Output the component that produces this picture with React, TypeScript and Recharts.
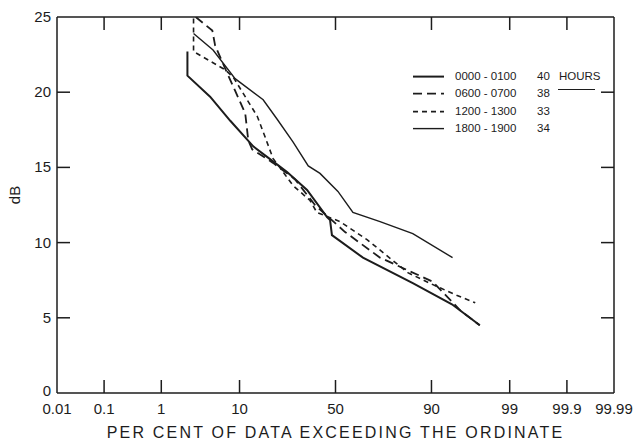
import React from "react";
import { LineChart, Line, XAxis, YAxis, Legend, Label } from "recharts";

// probability-paper abscissa: percent exceeded
const TICK_PCT = [0.01, 0.1, 1, 10, 50, 90, 99, 99.9, 99.99];
const TICK_LABELS = ["0.01", "0.1", "1", "10", "50", "90", "99", "99.9", "99.99"];
const DB_TICKS = [0, 5, 10, 15, 20, 25];

const SERIES_NAMES = ["0000 - 0100", "0600 - 0700", "1200 - 1300", "1800 - 1900"];
const SERIES_HOURS = ["40", "38", "33", "34"];

const PCT_0000 = [2.4, 2.4, 4.7, 8.0, 13.6, 20.2, 25.9, 35.2, 45.5, 47.1, 48.1, 64.3, 84.9, 94.0, 97.3];
const DB_0000 = [22.7, 21.1, 19.7, 18.1, 16.4, 15.4, 14.7, 13.5, 11.7, 11.5, 10.5, 9.0, 7.3, 5.9, 4.5];

const PCT_0600 = [3.1, 5.0, 5.4, 7.0, 9.0, 11.4, 12.2, 13.3, 20.2, 29.5, 39.2, 55.1, 72.4, 90.3, 95.2, 97.3];
const DB_0600 = [25.0, 24.1, 23.1, 21.6, 20.1, 18.6, 16.8, 16.2, 15.3, 14.2, 12.5, 10.7, 9.0, 7.4, 5.5, 4.5];

const PCT_1200 = [2.9, 2.9, 7.0, 8.6, 14.8, 17.4, 20.2, 28.5, 36.7, 40.2, 52.4, 66.3, 83.3, 89.6, 94.7, 96.9];
const DB_1200 = [24.9, 22.7, 21.5, 21.0, 18.4, 17.0, 15.6, 13.8, 12.8, 12.0, 11.4, 10.2, 8.0, 7.3, 6.5, 6.0];

const PCT_1800 = [2.9, 5.1, 9.0, 16.7, 21.8, 28.5, 35.8, 41.8, 51.3, 59.2, 72.4, 84.9, 94.1];
const DB_1800 = [23.9, 22.8, 20.9, 19.5, 18.2, 16.7, 15.1, 14.6, 13.4, 12.0, 11.4, 10.6, 9.0];

const INK = "#1c1c1c";
const FONT = "'Liberation Sans', Arial, sans-serif";

// inverse normal CDF (Acklam)
function probit(p: number): number {
  const a = [-3.969683028665376e1, 2.209460984245205e2, -2.759285104469687e2, 1.38357751867269e2, -3.066479806614716e1, 2.506628277459239];
  const b = [-5.447609879822406e1, 1.615858368580409e2, -1.556989798598866e2, 6.680131188771972e1, -1.328068155288572e1];
  const c = [-7.784894002430293e-3, -3.223964580411365e-1, -2.400758277161838, -2.549732539343734, 4.374664141464968, 2.938163982698783];
  const d = [7.784695709041462e-3, 3.224671290700398e-1, 2.445134137142996, 3.754408661907416];
  const pl = 0.02425;
  if (p < pl) {
    const q = Math.sqrt(-2 * Math.log(p));
    return (((((c[0] * q + c[1]) * q + c[2]) * q + c[3]) * q + c[4]) * q + c[5]) / ((((d[0] * q + d[1]) * q + d[2]) * q + d[3]) * q + 1);
  }
  if (p > 1 - pl) {
    const q = Math.sqrt(-2 * Math.log(1 - p));
    return -(((((c[0] * q + c[1]) * q + c[2]) * q + c[3]) * q + c[4]) * q + c[5]) / ((((d[0] * q + d[1]) * q + d[2]) * q + d[3]) * q + 1);
  }
  const q = p - 0.5;
  const r = q * q;
  return ((((((a[0] * r + a[1]) * r + a[2]) * r + a[3]) * r + a[4]) * r + a[5]) * q) / (((((b[0] * r + b[1]) * r + b[2]) * r + b[3]) * r + b[4]) * r + 1);
}

const TICKS_Z = TICK_PCT.map((p) => probit(p / 100));
const Z_MIN = TICKS_Z[0];
const Z_MAX = TICKS_Z[TICKS_Z.length - 1];

const toRows = (pct: number[], db: number[]) => pct.map((p, i) => ({ z: probit(p / 100), db: db[i] }));

const s0000 = toRows(PCT_0000, DB_0000);
const s0600 = toRows(PCT_0600, DB_0600);
const s1200 = toRows(PCT_1200, DB_1200);
const s1800 = toRows(PCT_1800, DB_1800);

const TICK_LEN = 13;

const tickIndex = (v: number) => TICKS_Z.findIndex((t) => Math.abs(t - v) < 1e-6);
const isInnerX = (v: number) => {
  const i = tickIndex(v);
  return i > 0 && i < TICKS_Z.length - 1;
};
const isInnerY = (v: number) => v > 0 && v < 25;

const BottomTick = (props: any) => {
  const { x, y, payload } = props;
  const i = tickIndex(payload.value);
  return (
    <g>
      {isInnerX(payload.value) && <line x1={x} x2={x} y1={y} y2={y - TICK_LEN} stroke={INK} strokeWidth={1.5} />}
      <text x={x} y={y + 21} textAnchor="middle" fontSize={15} fontFamily={FONT} fill={INK}>
        {TICK_LABELS[i]}
      </text>
    </g>
  );
};

const TopTick = (props: any) => {
  const { x, y, payload } = props;
  if (!isInnerX(payload.value)) return <g />;
  return <line x1={x} x2={x} y1={y} y2={y + TICK_LEN} stroke={INK} strokeWidth={1.5} />;
};

const LeftTick = (props: any) => {
  const { x, y, payload } = props;
  return (
    <g>
      {isInnerY(payload.value) && <line x1={x} x2={x + TICK_LEN} y1={y} y2={y} stroke={INK} strokeWidth={1.5} />}
      <text x={x - 6} y={payload.value === 0 ? y + 3 : y + 5} textAnchor="end" fontSize={15} fontFamily={FONT} fill={INK}>
        {payload.value}
      </text>
    </g>
  );
};

const RightTick = (props: any) => {
  const { x, y, payload } = props;
  if (!isInnerY(payload.value)) return <g />;
  return <line x1={x} x2={x - TICK_LEN} y1={y} y2={y} stroke={INK} strokeWidth={1.5} />;
};

const DASHES = ["", "9 5", "5 4", ""];
const WIDTHS = [2, 1.8, 1.6, 1.4];

const LegendBox = () => (
  <div style={{ position: "relative", width: 200, height: 72, fontFamily: FONT, fontSize: 11.5, color: INK }}>
    {SERIES_NAMES.map((name, i) => (
      <div key={name} style={{ position: "absolute", left: 0, top: i * 17.3, height: 17.3, width: 200 }}>
        <svg width={40} height={17.3} style={{ position: "absolute", left: 0, top: 0 }}>
          <line x1={3} x2={34} y1={8.6} y2={8.6} stroke={INK} strokeWidth={WIDTHS[i]} strokeDasharray={DASHES[i]} />
        </svg>
        <span style={{ position: "absolute", left: 45, top: 1, lineHeight: "15px" }}>{name}</span>
        <span style={{ position: "absolute", left: 127, top: 1, lineHeight: "15px" }}>{SERIES_HOURS[i]}</span>
        {i === 0 && (
          <span style={{ position: "absolute", left: 149, top: 1, lineHeight: "15px" }}>HOURS</span>
        )}
      </div>
    ))}
    <div style={{ position: "absolute", left: 148, top: 21, width: 37, height: 1.3, background: INK }} />
  </div>
);

export default function App() {
  return (
    <div>
      <style>{"body{margin:0;overflow:hidden}"}</style>
      <LineChart width={633} height={443} margin={{ top: 16, right: 18, bottom: 0, left: 0 }}>
        <XAxis
          xAxisId="b"
          dataKey="z"
          type="number"
          domain={[Z_MIN, Z_MAX]}
          ticks={TICKS_Z}
          interval={0}
          allowDataOverflow
          height={50}
          tickSize={0}
          tickMargin={0}
          tickLine={false}
          axisLine={{ stroke: INK, strokeWidth: 1.5 }}
          tick={<BottomTick />}
        >
          <Label
            value="PER CENT OF DATA EXCEEDING THE ORDINATE"
            position="insideBottom"
            offset={5}
            style={{ fontFamily: FONT, fontSize: 16, letterSpacing: 2.2, fill: INK }}
          />
        </XAxis>
        <XAxis
          xAxisId="t"
          orientation="top"
          dataKey="z"
          type="number"
          domain={[Z_MIN, Z_MAX]}
          ticks={TICKS_Z}
          interval={0}
          allowDataOverflow
          height={1}
          tickSize={0}
          tickMargin={0}
          tickLine={false}
          axisLine={{ stroke: INK, strokeWidth: 1.5 }}
          tick={<TopTick />}
        />
        <YAxis
          yAxisId="l"
          type="number"
          domain={[0, 25]}
          ticks={DB_TICKS}
          interval={0}
          allowDataOverflow
          width={57}
          tickSize={0}
          tickMargin={0}
          tickLine={false}
          axisLine={{ stroke: INK, strokeWidth: 1.5 }}
          tick={<LeftTick />}
        >
          <Label
            content={() => (
              <text x={20} y={195} transform="rotate(-90 20 195)" textAnchor="middle" fontSize={15} fontFamily={FONT} fill={INK}>
                dB
              </text>
            )}
          />
        </YAxis>
        <YAxis
          yAxisId="r"
          orientation="right"
          type="number"
          domain={[0, 25]}
          ticks={DB_TICKS}
          interval={0}
          allowDataOverflow
          width={1}
          tickSize={0}
          tickMargin={0}
          tickLine={false}
          axisLine={{ stroke: INK, strokeWidth: 1.5 }}
          tick={<RightTick />}
        />
        <Legend
          layout="horizontal"
          verticalAlign="middle"
          align="center"
          wrapperStyle={{ left: 410, top: 68, width: 200 }}
          content={() => <LegendBox />}
        />
        <Line xAxisId="b" yAxisId="l" name={SERIES_NAMES[0]} data={s0000} dataKey="db" type="linear" stroke={INK} strokeWidth={WIDTHS[0]} dot={false} isAnimationActive={false} />
        <Line xAxisId="b" yAxisId="l" name={SERIES_NAMES[1]} data={s0600} dataKey="db" type="linear" stroke={INK} strokeWidth={WIDTHS[1]} strokeDasharray={DASHES[1]} dot={false} isAnimationActive={false} />
        <Line xAxisId="b" yAxisId="l" name={SERIES_NAMES[2]} data={s1200} dataKey="db" type="linear" stroke={INK} strokeWidth={WIDTHS[2]} strokeDasharray={DASHES[2]} dot={false} isAnimationActive={false} />
        <Line xAxisId="b" yAxisId="l" name={SERIES_NAMES[3]} data={s1800} dataKey="db" type="linear" stroke={INK} strokeWidth={WIDTHS[3]} dot={false} isAnimationActive={false} />
      </LineChart>
    </div>
  );
}
